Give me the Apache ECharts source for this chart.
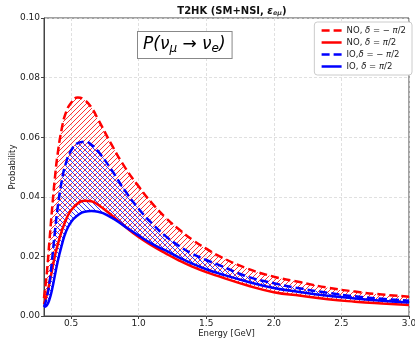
<!DOCTYPE html>
<html><head><meta charset="utf-8">
<script src="https://cdn.jsdelivr.net/npm/echarts@6/dist/echarts.min.js"></script>
<style>html,body{margin:0;padding:0;background:#fff}#c{width:415px;height:338px}</style>
</head><body><div id="c"></div>
<script>
const energy = [0.3,0.32,0.34,0.36,0.38,0.40,0.43,0.46,0.50,0.55,0.60,0.65,0.70,0.8,0.9,1.0,1.1,1.2,1.3,1.4,1.5,1.6,1.8,2.0,2.2,2.4,2.6,2.8,3.0];
const noMinus = [0.006,0.014,0.025,0.036,0.046,0.054,0.0625,0.068,0.0715,0.0733,0.0725,0.0700,0.0660,0.0575,0.0498,0.0435,0.0378,0.0330,0.0290,0.0255,0.0226,0.0200,0.0160,0.0132,0.0113,0.0095,0.0082,0.0072,0.0065];
const noPlus = [0.004,0.007,0.011,0.0155,0.0200,0.0237,0.0283,0.0320,0.0355,0.0378,0.0387,0.0385,0.0373,0.0338,0.0300,0.0265,0.0236,0.0210,0.0186,0.0165,0.0147,0.0132,0.0103,0.0080,0.0068,0.0056,0.0048,0.0042,0.0037];
const ioMinus = [0.003,0.006,0.011,0.019,0.028,0.036,0.045,0.051,0.0555,0.0580,0.0585,0.0575,0.0553,0.0490,0.0420,0.0360,0.0310,0.0268,0.0235,0.0208,0.0188,0.0170,0.0133,0.0110,0.0092,0.0078,0.0066,0.0058,0.0051];
const ioPlus = [0.003,0.0035,0.0055,0.009,0.0135,0.018,0.0235,0.0280,0.0315,0.0338,0.0350,0.0352,0.0350,0.0330,0.0300,0.0270,0.0242,0.0220,0.0196,0.0175,0.0157,0.0142,0.0116,0.0094,0.0080,0.0068,0.0059,0.0051,0.0045];
const xTicks = [0.5,1.0,1.5,2.0,2.5,3.0];
const seriesNames = ['NO, δ = −π/2','NO, δ = π/2','IO,δ = −π/2','IO, δ = π/2'];

function hatch(color, dir){
  const s = 5, cv = document.createElement('canvas');
  cv.width = s; cv.height = s;
  const g = cv.getContext('2d');
  g.strokeStyle = color; g.lineWidth = 1;
  g.beginPath();
  if (dir > 0) {
    g.moveTo(0,s); g.lineTo(s,0);
    g.moveTo(-1,1); g.lineTo(1,-1);
    g.moveTo(s-1,s+1); g.lineTo(s+1,s-1);
  } else {
    g.moveTo(0,0); g.lineTo(s,s);
    g.moveTo(-1,s-1); g.lineTo(1,s+1);
    g.moveTo(s-1,-1); g.lineTo(s+1,1);
  }
  g.stroke();
  return {type:'pattern', image: cv, repeat: 'repeat'};
}
const pair = arr => energy.map((e,i)=>[e, arr[i]]);
const F = 'DejaVu Sans';

function smoothPath(pts, first){
  const sm = 0.5, n = pts.length;
  let d = (first ? 'M' : 'L') + pts[0][0] + ' ' + pts[0][1];
  const cps = pts.map((p,i)=>{
    const pr = pts[Math.max(0,i-1)], nx = pts[Math.min(n-1,i+1)];
    const vx = nx[0]-pr[0], vy = nx[1]-pr[1];
    const l0 = Math.hypot(p[0]-pr[0], p[1]-pr[1]), l1 = Math.hypot(nx[0]-p[0], nx[1]-p[1]);
    const r = (l0+l1) ? l1/(l0+l1) : 0.5;
    return {in:[p[0]-vx*sm*(1-r), p[1]-vy*sm*(1-r)], out:[p[0]+vx*sm*r, p[1]+vy*sm*r]};
  });
  for (let i=1;i<n;i++){
    const a = cps[i-1].out, b = cps[i].in, p = pts[i];
    d += 'C' + a[0]+' '+a[1]+' '+b[0]+' '+b[1]+' '+p[0]+' '+p[1];
  }
  return d;
}
const band = (upper, lower, pat) => ({
  type:'custom', coordinateSystem:'cartesian2d', data:[[1, 0.05]], z:1, silent:true, clip:true,
  renderItem:(params, api)=>{
    const up = energy.map((e,i)=>api.coord([e, upper[i]]));
    const lo = energy.map((e,i)=>api.coord([e, lower[i]])).reverse();
    const d = smoothPath(up, true) + smoothPath(lo, false) + 'Z';
    return {type:'path', shape:{pathData:d}, style:{fill:pat, stroke:null}};
  }
});
const line = (name, arr, color, dashed) => ({type:'line', name, data: pair(arr), symbol:'none', smooth:true, z:3,
  lineStyle:{color, width:2.5, type: dashed ? [8,4] : 'solid'}, itemStyle:{color}});

const chart = echarts.init(document.getElementById('c'), null, {renderer:'canvas'});
chart.setOption({
  animation:false,
  title:{
    text:'{b|T2HK (SM+NSI, }{e|ε}{s|eμ}{b|)}',
    left: 227, textAlign:'center', top: 0,
    textStyle:{rich:{
      b:{fontFamily:F, fontWeight:'bold', fontSize:10, color:'#111'},
      e:{fontFamily:F, fontStyle:'italic', fontSize:10, color:'#111'},
      s:{fontFamily:F, fontStyle:'italic', fontSize:6.5, color:'#444', padding:[5,0,0,0]}
    }}
  },
  grid:{left:44, right:6, top:18, bottom:22, show:true, borderColor:'#444', borderWidth:1, outerBoundsMode:'none', containLabel:false},
  legend:{
    data: seriesNames, orient:'vertical', right:3, top:22,
    itemWidth:20, itemHeight:8, itemGap:3,
    padding:[4,6,4,6], backgroundColor:'#fff', borderColor:'#ccc', borderWidth:1, borderRadius:3,
    itemStyle:{opacity:0},
    lineStyle:{width:2.5},
    formatter: n => {
      const m = {'NO, δ = −π/2':'{n|NO, }{i|δ}{n| = − }{i|π}{n|/2}',
                 'NO, δ = π/2':'{n|NO, }{i|δ}{n| = }{i|π}{n|/2}',
                 'IO,δ = −π/2':'{n|IO,}{i|δ}{n| = − }{i|π}{n|/2}',
                 'IO, δ = π/2':'{n|IO, }{i|δ}{n| = }{i|π}{n|/2}'};
      return m[n];
    },
    textStyle:{rich:{n:{fontFamily:F, fontSize:8.5, color:'#222'}, i:{fontFamily:F, fontStyle:'italic', fontSize:8.5, color:'#222'}}}
  },
  xAxis:{
    type:'value', min:0.3, max:3.0,
    name:'Energy [GeV]', nameLocation:'middle', nameGap:13.5, nameMoveOverlap:false,
    nameTextStyle:{fontFamily:F, fontSize:8.5, color:'#222', verticalAlign:'top'},
    axisLine:{lineStyle:{color:'#444'}},
    axisTick:{show:true, length:3, customValues: xTicks, lineStyle:{color:'#444'}},
    axisLabel:{customValues: xTicks, formatter: v => v.toFixed(1), fontFamily:F, fontSize:9, color:'#222', margin:3},
    splitLine:{show:true, lineStyle:{color:'#d8d8d8', type:[3,2], width:0.8}}
  },
  yAxis:{
    type:'value', min:0, max:0.1, interval:0.02,
    name:'Probability', nameLocation:'middle', nameGap:27, nameMoveOverlap:false,
    nameTextStyle:{fontFamily:F, fontSize:8.5, color:'#222'},
    axisLine:{show:true, lineStyle:{color:'#444'}},
    axisTick:{show:true, length:3, lineStyle:{color:'#444'}},
    axisLabel:{formatter: v => v.toFixed(2), fontFamily:F, fontSize:9, color:'#222', margin:4},
    splitLine:{show:true, lineStyle:{color:'#d8d8d8', type:[3,2], width:0.8}}
  },
  graphic:[{
    type:'text', left:137, top:31, z:10,
    style:{
      text:'{m|P(ν}{s|μ}{m| → ν}{s|e}{m|)}',
      rich:{
        m:{fontFamily:F, fontStyle:'italic', fontSize:17, color:'#111'},
        s:{fontFamily:F, fontStyle:'italic', fontSize:12, color:'#111', padding:[8,0,0,0]}
      },
      backgroundColor:'#fff', borderColor:'#888', borderWidth:1, padding:[3,6,3,5]
    }
  }],
  series:[
    band(noMinus, noPlus, hatch('rgba(255,30,30,0.9)', 1)),
    band(ioMinus, ioPlus, hatch('rgba(30,30,255,0.9)', -1)),
    line(seriesNames[0], noMinus, '#ff0000', true),
    line(seriesNames[1], noPlus, '#ff0000', false),
    line(seriesNames[2], ioMinus, '#0000ff', true),
    line(seriesNames[3], ioPlus, '#0000ff', false)
  ]
});
</script></body></html>
